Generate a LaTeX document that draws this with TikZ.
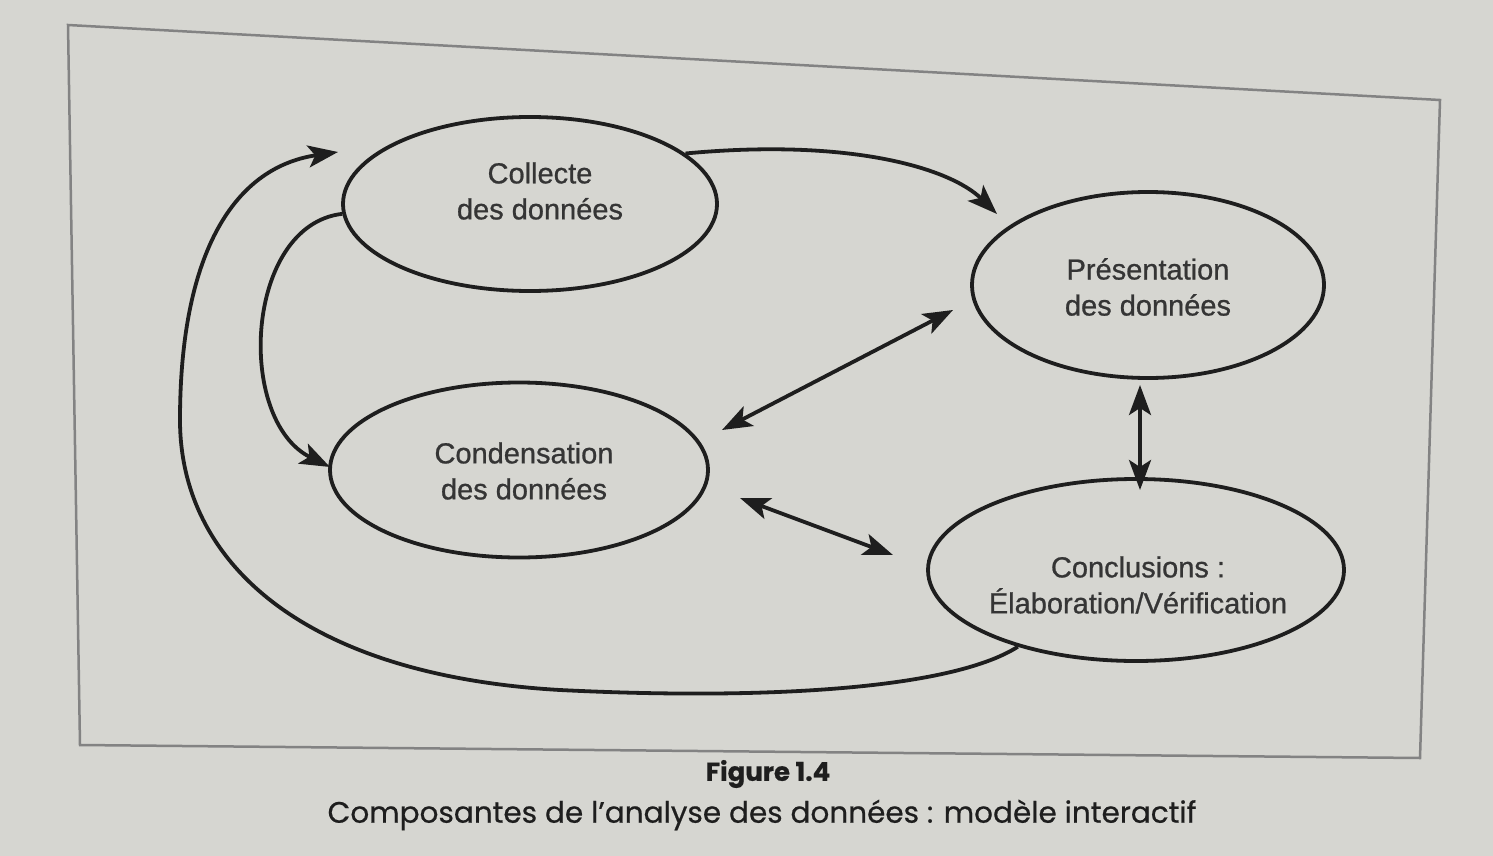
\documentclass[tikz,border=0pt]{standalone}
\usepackage{fontspec}
\setmainfont{Liberation Sans}
\newfontfamily\lblfont[FakeBold=0.8]{Liberation Sans}
\newfontfamily\capfont[FakeBold=0.6]{Poppins}
\usetikzlibrary{shapes.geometric,arrows.meta}
\definecolor{paper}{RGB}{214,214,209}
\definecolor{ink}{RGB}{30,30,30}
\begin{document}
\begin{tikzpicture}[x=1pt,y=-1pt,
  bubble/.style={ellipse,draw=ink,line width=3.8pt,inner sep=0pt},
  lbl/.style={align=center,font=\lblfont\fontsize{29}{36}\selectfont,text=ink!90},
  link/.style={draw=ink,line width=3.8pt,-{Stealth[length=30pt,width=22pt,inset=7pt]}},
  dlink/.style={draw=ink,line width=3.8pt,{Stealth[length=30pt,width=22pt,inset=7pt]}-{Stealth[length=30pt,width=22pt,inset=7pt]}}]
\fill[paper] (0,0) rectangle (1493,856);
\useasboundingbox (0,0) rectangle (1493,856);
\draw[ink!55,line width=2.5pt] (68,25) -- (1440,100) -- (1420,758) -- (80,745) -- cycle;

\node[bubble,minimum width=374pt,minimum height=174pt] (collecte) at (530,204) {};
\node[bubble,minimum width=352pt,minimum height=186pt] (present) at (1148,285) {};
\node[bubble,minimum width=378pt,minimum height=175pt] (conden) at (519,470) {};
\node[bubble,minimum width=416pt,minimum height=182pt] (concl) at (1136,570) {};

\node[lbl] (tcollecte) at (540,191) {Collecte\\des données};
\node[lbl] (tpresent) at (1148,287) {Présentation\\des données};
\node[lbl] (tconden) at (524,471) {Condensation\\des données};
\node[lbl] (tconcl) at (1138,585) {Conclusions :\\Élaboration/Vérification};

\coordinate (pTop) at (997,214);
\coordinate (cLeftIn) at (338,152);
\coordinate (cdIn) at (330,467);
\coordinate (cdA) at (722,430);
\coordinate (prA) at (953,310);
\coordinate (prB) at (1140,385);
\coordinate (coB) at (1140,490);
\coordinate (cdB) at (740,498);
\coordinate (coC) at (893,555);

\draw[link] (collecte.18) .. controls (850,138) and (950,168) .. (pTop);
\draw[link] (concl.-147) .. controls (950,690) and (760,700) .. (560,690)
   .. controls (300,675) and (180,560) .. (180,420)
   .. controls (180,260) and (230,168) .. (cLeftIn);
\draw[link] (collecte.-177) .. controls (245,225) and (235,420) .. (cdIn);
\draw[dlink] (cdA) -- (prA);
\draw[dlink] (prB) -- (coB);
\draw[dlink] (cdB) -- (coC);

\node[font=\capfont\bfseries\fontsize{26}{30}\selectfont,text=ink] (fig) at (768,774) {Figure 1.4};
\node[font=\capfont\fontsize{29.5}{34}\selectfont,text=ink] (cap) at (762,815) {Composantes de l’analyse des données : modèle interactif};
\end{tikzpicture}
\end{document}
